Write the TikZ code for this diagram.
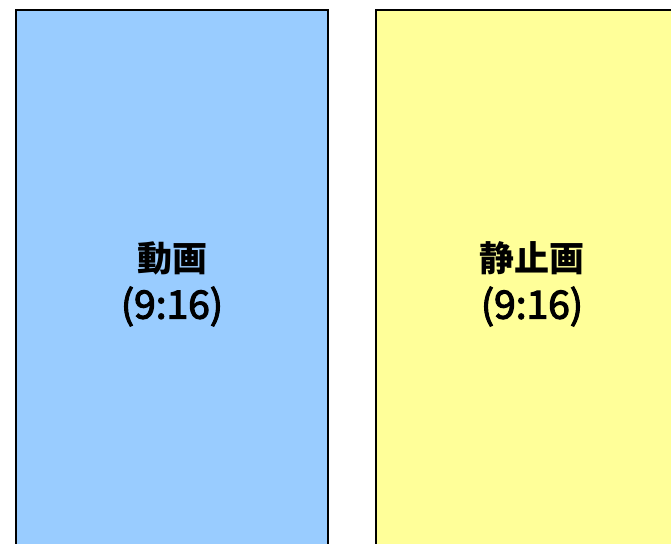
\documentclass[tikz,border=0pt]{standalone}
\usepackage{fontspec}
\newfontfamily\jpfont{Noto Sans CJK JP}
\newfontfamily\jpmedium{Noto Sans CJK JP}[FakeBold=3]
\usepackage{tikz}
\usetikzlibrary{positioning}

\definecolor{movieblue}{HTML}{99CCFF}
\definecolor{stillyellow}{HTML}{FFFF99}

\newcommand\paneltitle[1]{{\bfseries\fontsize{35}{44}\selectfont #1}}
\newcommand\panelratio[1]{{\jpmedium\fontsize{39}{44}\selectfont #1}}

\begin{document}
\begin{tikzpicture}[x=1pt,y=1pt,
  panel/.style={draw=black, line width=2pt, minimum width=312pt, minimum height=548pt,
    inner sep=0pt, align=center, font=\jpfont\fontsize{32}{44}\selectfont}]
 \useasboundingbox (0,0) rectangle (671,543);
 \clip (0,0) rectangle (671,543);
 \node[panel, fill=movieblue] (movie) at (172,259) {\paneltitle{動画}\\[3pt]\panelratio{(9:16)}};
 \node[panel, fill=stillyellow, right=46pt of movie] (still) {\paneltitle{静止画}\\[3pt]\panelratio{(9:16)}};
\end{tikzpicture}
\end{document}
